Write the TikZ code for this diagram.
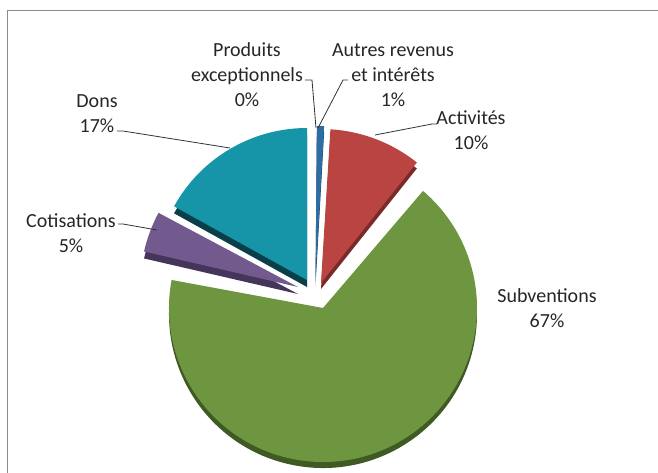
\documentclass[tikz,border=0pt]{standalone}
\usepackage{fontspec}
\setmainfont{Carlito}
\definecolor{subvtop}{HTML}{6E9640}
\definecolor{subvside}{HTML}{3F5A22}
\definecolor{activtop}{HTML}{B94441}
\definecolor{activside}{HTML}{7A2A28}
\definecolor{donstop}{HTML}{1795A8}
\definecolor{donsside}{HTML}{083F48}
\definecolor{cotistop}{HTML}{735A8E}
\definecolor{cotisside}{HTML}{45355A}
\definecolor{autrestop}{HTML}{2E6DA4}
\definecolor{autresside}{HTML}{1C4266}
\begin{document}
\begin{tikzpicture}[x=1pt,y=1pt]
        \tikzstyle{every node}+=[inner sep=0pt, align=center, text=black!85, font=\fontsize{20}{25}\selectfont]
        \tikzstyle{leader}=[black!80, line width=0.8pt]
        \useasboundingbox (0,0) rectangle (658,-472);
        \clip (0,0) rectangle (658,-472);
        \draw [black!45, line width=1.5pt] (7.5,-10.5) rectangle (690,-510);
        % Subventions
        \fill [subvside] (323,-314) -- ++(169.5:154) arc (169.5:409.5:154) -- cycle;
        \fill [subvtop] (323,-308) -- ++(169.5:154) arc (169.5:409.5:154) -- cycle;
        % Activites
        \fill [activside] (321,-289) -- ++(51.5:154) arc (51.5:86.5:154) -- cycle;
        \fill [activtop] (321,-283) -- ++(51.5:154) arc (51.5:86.5:154) -- cycle;
        % Autres revenus
        \fill [autresside] (315.5,-286) -- ++(86.8:154) arc (86.8:89.5:154) -- cycle;
        \fill [autrestop] (315.5,-280) -- ++(86.8:154) arc (86.8:89.5:154) -- cycle;
        % Dons
        \fill [donsside] (307,-287) -- ++(90:152) arc (90:151:152) -- cycle;
        \fill [donstop] (307,-280) -- ++(90:152) arc (90:151:152) -- cycle;
        % Cotisations
        \fill [cotisside] (298,-294) -- ++(152:158) arc (152:167:158) -- cycle;
        \fill [cotistop] (298,-287) -- ++(152:158) arc (152:167:158) -- cycle;
        % labels
        \node (prod) at (247,-75) {Produits\\exceptionnels\\0\%};
        \node (autres) at (393,-75) {Autres revenus\\et intérêts\\1\%};
        \node (activ) at (471,-130.5) {Activités\\10\%};
        \node (dons) at (97,-114) {Dons\\17\%};
        \node (cotis) at (71,-233) {Cotisations\\5\%};
        \node (subv) at (547,-308) {Subventions\\67\%};
        % leader ends
        \coordinate (prodA) at (305,-80);
        \coordinate (prodB) at (316,-128);
        \coordinate (autresA) at (348,-80);
        \coordinate (autresB) at (318,-128);
        \coordinate (activA) at (437,-124);
        \coordinate (activB) at (375,-135);
        \coordinate (donsA) at (117,-131);
        \coordinate (donsB) at (230,-148);
        \coordinate (cotisA) at (118,-224);
        \coordinate (cotisB) at (157,-230);
        \draw [leader] (prodA) -- ++(7,0) -- (prodB);
        \draw [leader] (autresA) -- ++(-5,0) -- (autresB);
        \draw [leader] (activA) -- ++(-5,0) -- (activB);
        \draw [leader] (donsA) -- ++(6,0) -- (donsB);
        \draw [leader] (cotisA) -- ++(5,0) -- (cotisB);
\end{tikzpicture}
\end{document}
